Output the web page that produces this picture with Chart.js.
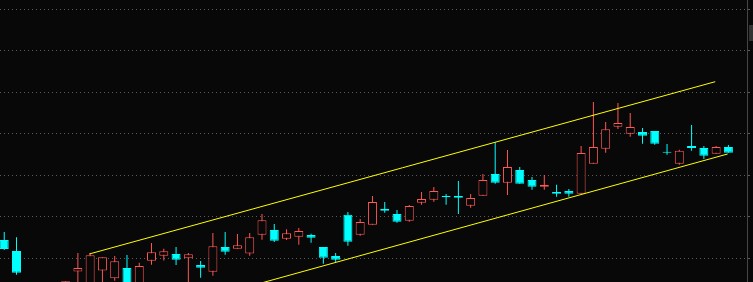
<!DOCTYPE html>
<html>
<head>
<meta charset="utf-8">
<script src="https://cdn.jsdelivr.net/npm/chart.js@4.4.1/dist/chart.umd.min.js"></script>
<style>
  html, body { margin: 0; padding: 0; background: #080808; overflow: hidden; }
  canvas { display: block; }
</style>
</head>
<body>
<canvas id="kline" width="753" height="282"></canvas>
<script>
// daily candles, index 0..59 (2-4 are below the visible range)
const opens = [9.220, 9.088, null, null, null, 8.60, 8.841, 8.65, 8.853, 8.759,
    8.883, 8.68, 8.971, 9.031, 9.052, 9.000, 8.919, 8.839, 9.136, 9.116,
    9.058, 9.284, 9.341, 9.236, 9.260, 9.281, 9.136, 9.028, 9.525, 9.284,
    9.405, 9.598, 9.534, 9.453, 9.670, 9.706, 9.751, 9.751, 9.634, 9.754,
    10.016, 9.911, 10.064, 9.943, 9.863, 9.799, 9.811, 9.778, 10.140, 10.320,
    10.586, 10.501, 10.522, 10.534, 10.284, 10.140, 10.353, 10.329, 10.260, 10.341];
const closes = [9.112, 8.826, null, null, null, 8.723, 8.883, 9.036, 9.012, 8.964,
    8.62, 8.907, 9.072, 9.084, 8.983, 9.048, 8.887, 9.145, 9.080, 9.157,
    9.253, 9.458, 9.212, 9.302, 9.329, 9.248, 9.007, 8.983, 9.199, 9.437,
    9.678, 9.573, 9.441, 9.630, 9.714, 9.811, 9.737, 9.730, 9.727, 9.943,
    9.911, 10.100, 9.899, 9.863, 9.887, 9.778, 9.778, 10.269, 10.341, 10.554,
    10.630, 10.582, 10.477, 10.381, 10.272, 10.296, 10.329, 10.236, 10.341, 10.272];
const highs = [9.317, 9.253, null, null, null, 8.723, 9.064, 9.058, 9.012, 9.028,
    9.040, 8.947, 9.184, 9.116, 9.136, 9.064, 8.967, 9.305, 9.317, 9.293,
    9.305, 9.534, 9.413, 9.349, 9.365, 9.296, 9.136, 9.064, 9.558, 9.473,
    9.751, 9.678, 9.582, 9.642, 9.799, 9.859, 9.775, 9.931, 9.775, 10.016,
    10.398, 10.305, 10.100, 9.980, 10.004, 9.887, 9.835, 10.353, 10.883, 10.642,
    10.871, 10.751, 10.570, 10.534, 10.377, 10.308, 10.606, 10.353, 10.353, 10.365];
const lows = [9.100, 8.802, null, null, null, 8.55, 8.65, 8.60, 8.68, 8.730,
    8.60, 8.66, 8.923, 8.973, 8.919, 8.68, 8.766, 8.790, 9.043, 9.116,
    9.031, 9.224, 9.196, 9.220, 9.164, 9.188, 8.935, 8.955, 9.152, 9.272,
    9.405, 9.549, 9.429, 9.441, 9.646, 9.682, 9.646, 9.534, 9.610, 9.754,
    9.899, 9.763, 9.899, 9.827, 9.827, 9.742, 9.742, 9.778, 10.140, 10.272,
    10.558, 10.465, 10.381, 10.369, 10.248, 10.128, 10.296, 10.196, 10.260, 10.272];

// channel lines (x = candle index)
const upperX = [6.93, 57.93];
const upperY = [9.052, 11.128];
const lowerX = [18, 58.94];
const lowerY = [8.582, 10.257];

const yMin = 8.7145;
const yMax = 12.112;
const gridStep = 0.5;

const upColor = '#ff5656';
const downColor = '#00ffff';
const bgColor = '#080808';

const bodies = [], wicks = [], bodyFill = [], candleColor = [];
for (let i = 0; i < opens.length; i++) {
    if (opens[i] === null) continue;
    const up = closes[i] >= opens[i];
    bodies.push({ x: i, y: [opens[i], closes[i]] });
    wicks.push({ x: i, y: [lows[i], highs[i]] });
    candleColor.push(up ? upColor : downColor);
    bodyFill.push(up ? bgColor : downColor);
}

const bgPlugin = {
    id: 'bg',
    beforeDraw(chart) {
        const ctx = chart.ctx;
        ctx.save();
        ctx.fillStyle = bgColor;
        ctx.fillRect(0, 0, chart.width, chart.height);
        ctx.restore();
    },
    afterDraw(chart) {
        // little scroll handle on the right edge
        const ctx = chart.ctx;
        ctx.save();
        ctx.fillStyle = '#333333';
        ctx.fillRect(749, 25, 4, 16);
        ctx.restore();
    }
};

const ctx = document.getElementById('kline').getContext('2d');
new Chart(ctx, {
    type: 'bar',
    data: {
        datasets: [
            {
                type: 'line',
                data: upperX.map((x, k) => ({ x: x, y: upperY[k] })),
                borderColor: '#ffff00',
                borderWidth: 1,
                pointRadius: 0,
                order: 0
            },
            {
                type: 'line',
                data: lowerX.map((x, k) => ({ x: x, y: lowerY[k] })),
                borderColor: '#ffff00',
                borderWidth: 1,
                pointRadius: 0,
                order: 0
            },
            {
                data: bodies,
                backgroundColor: bodyFill,
                borderColor: candleColor,
                borderWidth: 1,
                borderSkipped: false,
                inflateAmount: 0,
                barThickness: 9,
                grouped: false,
                order: 1
            },
            {
                data: wicks,
                backgroundColor: candleColor,
                borderWidth: 0,
                inflateAmount: 0,
                barThickness: 1,
                grouped: false,
                order: 2
            }
        ]
    },
    options: {
        responsive: false,
        animation: false,
        layout: { padding: { right: 3 } },
        plugins: {
            legend: { display: false },
            tooltip: { enabled: false }
        },
        scales: {
            x: {
                type: 'linear',
                display: false,
                offset: false,
                min: -0.345,
                max: 60.515
            },
            y: {
                position: 'right',
                min: yMin,
                max: yMax,
                ticks: { display: false, stepSize: gridStep, includeBounds: false },
                grid: { color: '#5c5c5c', tickLength: 3, drawTicks: true, tickColor: '#5c5c5c' },
                border: { display: true, color: '#454545', dash: [1, 3] }
            }
        }
    },
    plugins: [bgPlugin]
});
</script>
</body>
</html>
